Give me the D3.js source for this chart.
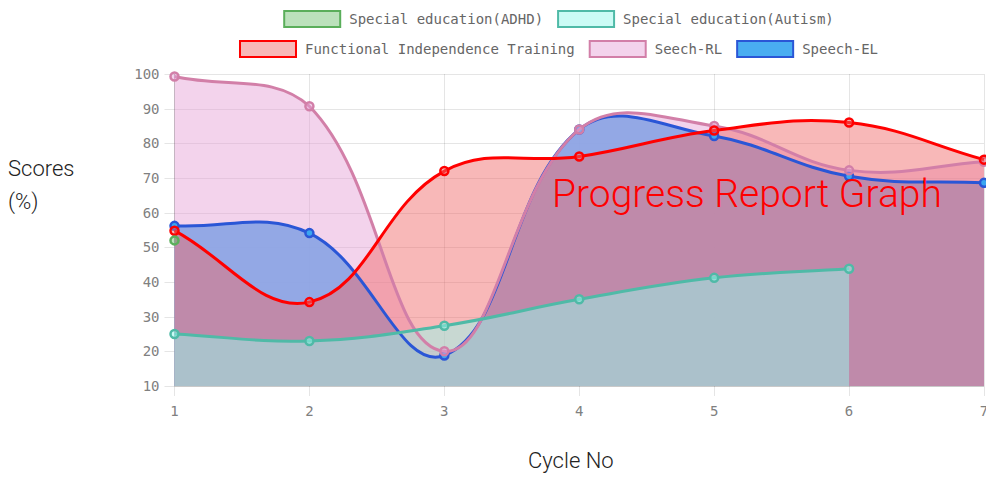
<!DOCTYPE html>
<html>
<head>
<meta charset="utf-8">
<script src="https://cdn.jsdelivr.net/npm/d3@7"></script>
<style>
  body { margin: 0; background: #fff; }
  svg { display: block; }
</style>
</head>
<body>
<div id="chart"></div>
<script>
'use strict';

// Chart data
var cycles = [1, 2, 3, 4, 5, 6, 7];
var seriesNames = [
  'Special education(ADHD)',
  'Special education(Autism)',
  'Functional Independence Training',
  'Seech-RL',
  'Speech-EL'
];
var adhdScores = [52, null, null, null, null, null, null];
var autismScores = [25, 23, 27.4, 35, 41.2, 43.8, null];
var fitScores = [54.8, 34.2, 72, 76.2, 83.7, 86, 75.3];
var speechRLScores = [99.3, 90.7, 20, 84, 85, 72.2, 74.7];
var speechELScores = [56.2, 54.1, 18.8, 84, 82.1, 70.5, 68.6];
var yTicks = [10, 20, 30, 40, 50, 60, 70, 80, 90, 100];

// Series styles (same order as seriesNames)
var lineColors = ['#5aae5a', '#4fbaa7', '#ff0000', '#d27fa8', '#2a56d6'];
var fillColors = [
  'rgba(92,184,92,0.42)',
  'rgba(152,248,236,0.5)',
  'rgba(240,107,107,0.48)',
  'rgba(230,162,215,0.475)',
  'rgba(58,166,240,0.92)'
];
var pointFills = [
  'rgba(92,184,92,0.42)',
  'rgba(152,248,236,0.5)',
  'rgba(240,107,107,0.48)',
  'rgba(230,162,215,0.475)',
  '#3aa6f0'
];

var series = [adhdScores, autismScores, fitScores, speechRLScores, speechELScores].map(function (values, i) {
  return {
    name: seriesNames[i],
    line: lineColors[i],
    fill: fillColors[i],
    pointFill: pointFills[i],
    points: cycles.map(function (c, j) { return {cycle: c, value: values[j]}; })
  };
});

var width = 986,
  height = 477,
  area = {left: 174.5, right: 984, top: 74, bottom: 386},
  monoFont = '"DejaVu Sans Mono", monospace';

var svg = d3.select('#chart').append('svg')
  .attr('width', width)
  .attr('height', height);

// Define scales
var x = d3.scaleLinear()
  .domain(d3.extent(cycles))
  .range([area.left, area.right]);

var y = d3.scaleLinear()
  .domain([d3.min(yTicks), d3.max(yTicks)])
  .range([area.bottom, area.top]);

// Bezier spline like the one Chart.js uses (tension 0.4, capped to the chart area)
function SplineCurve(context) {
  this._context = context;
}
SplineCurve.prototype = {
  areaStart: function () { this._line = 0; },
  areaEnd: function () { this._line = NaN; },
  lineStart: function () { this._pts = []; },
  point: function (px, py) { this._pts.push([+px, +py]); },
  lineEnd: function () {
    var pts = this._pts,
      n = pts.length,
      ctx = this._context,
      t = 0.4,
      cps = [],
      i;

    if (n) {
      if (this._line) ctx.lineTo(pts[0][0], pts[0][1]);
      else ctx.moveTo(pts[0][0], pts[0][1]);
    }

    for (i = 0; i < n; i++) {
      var prev = pts[Math.max(i - 1, 0)],
        cur = pts[i],
        next = pts[Math.min(i + 1, n - 1)],
        d01 = Math.hypot(cur[0] - prev[0], cur[1] - prev[1]),
        d12 = Math.hypot(next[0] - cur[0], next[1] - cur[1]),
        s01 = d01 / (d01 + d12),
        s12 = d12 / (d01 + d12);
      s01 = isNaN(s01) ? 0 : s01;
      s12 = isNaN(s12) ? 0 : s12;
      var fa = t * s01, fb = t * s12;
      cps.push({
        inX: cur[0] - fa * (next[0] - prev[0]),
        inY: clampY(cur[1] - fa * (next[1] - prev[1])),
        outX: cur[0] + fb * (next[0] - prev[0]),
        outY: clampY(cur[1] + fb * (next[1] - prev[1]))
      });
    }

    for (i = 1; i < n; i++) {
      ctx.bezierCurveTo(cps[i - 1].outX, cps[i - 1].outY, cps[i].inX, cps[i].inY, pts[i][0], pts[i][1]);
    }

    if (this._line || (this._line !== 0 && n === 1)) ctx.closePath();
    this._line = 1 - this._line;
  }
};

function clampY(v) {
  return Math.max(area.top, Math.min(area.bottom, v));
}

function splineCurve(context) {
  return new SplineCurve(context);
}

function defined(d) { return d.value !== null; }

var line = d3.line()
  .defined(defined)
  .x(function (d) { return x(d.cycle); })
  .y(function (d) { return y(d.value); })
  .curve(splineCurve);

var fillArea = d3.area()
  .defined(defined)
  .x(function (d) { return x(d.cycle); })
  .y0(area.bottom)
  .y1(function (d) { return y(d.value); })
  .curve(splineCurve);

// Grid lines and tick marks
var grid = svg.append('g').attr('class', 'grid');

grid.selectAll('.hgrid').data(yTicks)
  .enter().append('line')
  .attr('class', 'hgrid')
  .attr('x1', area.left - 10)
  .attr('x2', area.right)
  .attr('y1', function (d) { return Math.round(y(d)) + 0.5; })
  .attr('y2', function (d) { return Math.round(y(d)) + 0.5; })
  .style('stroke', 'rgba(0,0,0,0.1)');

grid.selectAll('.vgrid').data(cycles)
  .enter().append('line')
  .attr('class', 'vgrid')
  .attr('x1', function (d) { return Math.round(x(d) - 0.5) + 0.5; })
  .attr('x2', function (d) { return Math.round(x(d) - 0.5) + 0.5; })
  .attr('y1', area.top)
  .attr('y2', area.bottom + 10)
  .style('stroke', 'rgba(0,0,0,0.1)');

// Axis borders
grid.append('line')
  .attr('x1', area.left).attr('x2', area.left)
  .attr('y1', area.top).attr('y2', area.bottom)
  .style('stroke', 'rgba(0,0,0,0.18)');

grid.append('line')
  .attr('x1', area.left).attr('x2', area.right)
  .attr('y1', Math.round(area.bottom) + 0.5).attr('y2', Math.round(area.bottom) + 0.5)
  .style('stroke', 'rgba(0,0,0,0.12)');

// Tick labels
svg.append('g').selectAll('text').data(yTicks)
  .enter().append('text')
  .attr('x', area.left - 15)
  .attr('y', function (d) { return y(d); })
  .attr('dy', '0.36em')
  .attr('text-anchor', 'end')
  .style('font-family', monoFont)
  .style('font-size', '14px')
  .style('fill', '#808080')
  .text(String);

svg.append('g').selectAll('text').data(cycles)
  .enter().append('text')
  .attr('x', function (d) { return x(d); })
  .attr('y', area.bottom + 25)
  .attr('dy', '0.36em')
  .attr('text-anchor', 'middle')
  .style('font-family', monoFont)
  .style('font-size', '14px')
  .style('fill', '#808080')
  .text(String);

// Fills first (last dataset at the bottom), then lines and points
var drawOrder = series.slice().reverse();

svg.append('g').selectAll('path').data(drawOrder)
  .enter().append('path')
  .attr('d', function (d) { return fillArea(d.points); })
  .style('fill', function (d) { return d.fill; })
  .style('stroke', 'none');

var gSeries = svg.append('g').selectAll('g').data(drawOrder)
  .enter().append('g');

gSeries.append('path')
  .attr('d', function (d) { return line(d.points); })
  .style('fill', 'none')
  .style('stroke', function (d) { return d.line; })
  .style('stroke-width', 3);

gSeries.selectAll('circle')
  .data(function (d) {
    return d.points.filter(defined).map(function (p) { return {p: p, s: d}; });
  })
  .enter().append('circle')
  .attr('cx', function (d) { return x(d.p.cycle); })
  .attr('cy', function (d) { return y(d.p.value); })
  .attr('r', 4)
  .style('fill', function (d) { return d.s.pointFill; })
  .style('stroke', function (d) { return d.s.line; })
  .style('stroke-width', 2.5);

// Legend, wrapped into centred rows
var legend = svg.append('g').attr('class', 'legend'),
  boxW = 58,
  boxH = 18,
  legendMax = 660,
  legendCenter = 558.5,
  rows = [[]],
  rowW = [0];

var items = legend.selectAll('g').data(series)
  .enter().append('g');

items.append('rect')
  .attr('x', 1)
  .attr('y', 1)
  .attr('width', boxW - 2)
  .attr('height', boxH - 2)
  .style('fill', function (d) { return d.fill; })
  .style('stroke', function (d) { return d.line; })
  .style('stroke-width', 2);

items.append('text')
  .attr('x', boxW + 8)
  .attr('y', boxH / 2)
  .attr('dy', '0.35em')
  .style('font-family', monoFont)
  .style('font-size', '14px')
  .style('fill', '#666')
  .text(function (d) { return d.name; });

items.each(function () {
  var w = boxW + 8 + d3.select(this).select('text').node().getComputedTextLength(),
    r = rows.length - 1,
    add = rows[r].length ? w + 14 : w;
  if (rowW[r] + add > legendMax) {
    rows.push([]);
    rowW.push(0);
    r += 1;
    add = w;
  }
  rows[r].push({node: this, w: w});
  rowW[r] += add;
});

rows.forEach(function (row, r) {
  var cx = legendCenter - rowW[r] / 2;
  row.forEach(function (it) {
    d3.select(it.node).attr('transform', 'translate(' + cx + ',' + (10 + r * 30) + ')');
    cx += it.w + 14;
  });
});

// Titles
var sans = 'Roboto, "Noto Sans", sans-serif';

svg.append('text')
  .attr('x', 8)
  .attr('y', 176)
  .style('font-family', sans)
  .style('font-weight', 300)
  .style('font-size', '22px')
  .style('fill', '#222')
  .text('Scores');

svg.append('text')
  .attr('x', 8)
  .attr('y', 209)
  .style('font-family', sans)
  .style('font-weight', 300)
  .style('font-size', '22px')
  .style('fill', '#222')
  .text('(%)');

svg.append('text')
  .attr('x', 528)
  .attr('y', 468)
  .style('font-family', sans)
  .style('font-weight', 300)
  .style('font-size', '22px')
  .style('fill', '#222')
  .text('Cycle No');

svg.append('text')
  .attr('x', 552)
  .attr('y', 207)
  .style('font-family', sans)
  .style('font-weight', 300)
  .style('font-size', '39px')
  .style('fill', '#ff0000')
  .text('Progress Report Graph');
</script>
</body>
</html>
